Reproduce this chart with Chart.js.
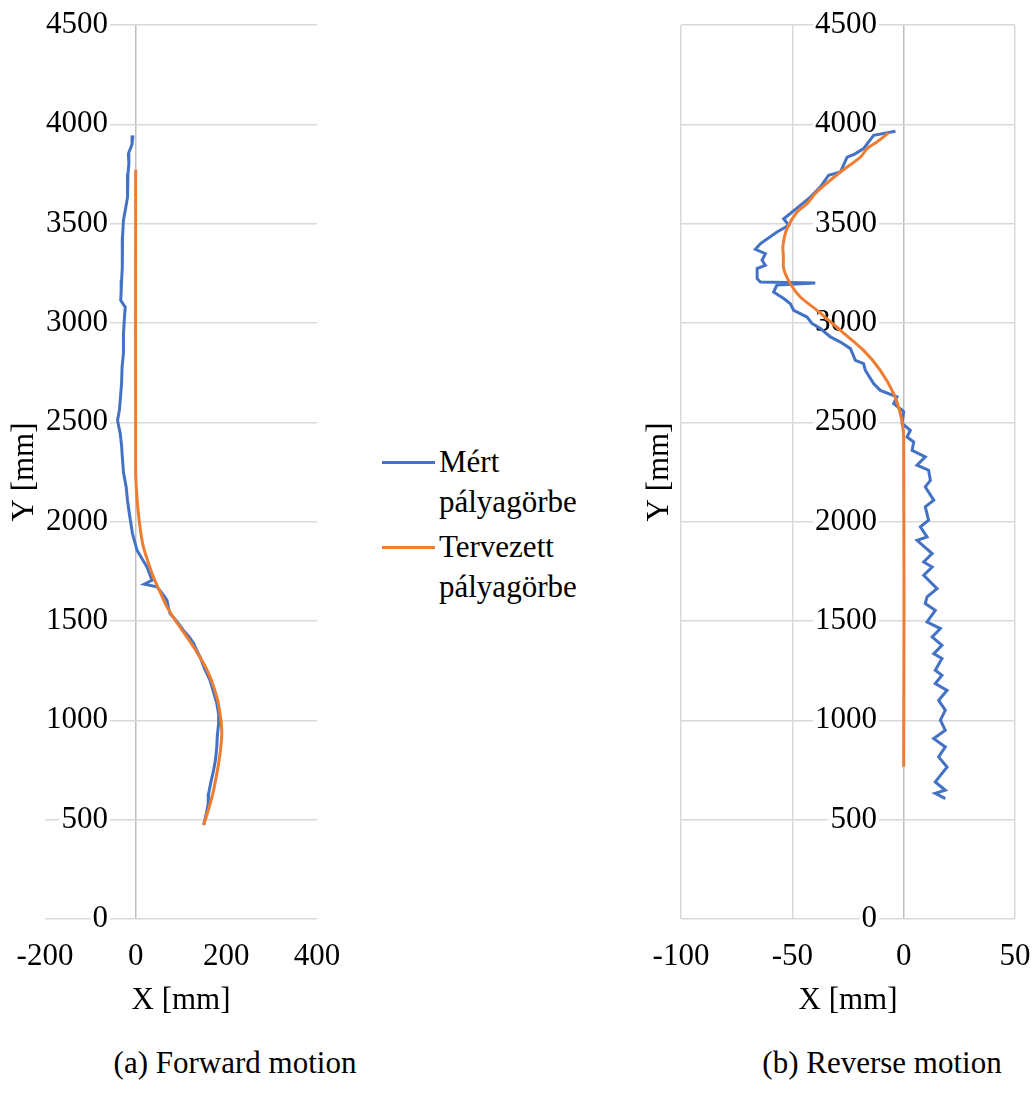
<!DOCTYPE html>
<html>
<head>
<meta charset="utf-8">
<script src="https://cdn.jsdelivr.net/npm/chart.js@4.4.1/dist/chart.umd.min.js"></script>
<style>
    body { margin: 0; background: #ffffff; width: 1033px; height: 1106px; position: relative; overflow: hidden; font-family: 'Liberation Serif', 'Times New Roman', Times, 'DejaVu Serif', serif; color: #000000; }
    #forwardChart { position: absolute; left: 0; top: 0; }
    #reverseChart { position: absolute; left: 620px; top: 0; }
    #legend { position: absolute; left: 382px; top: 442px; font-size: 31px; }
    .legendItem { display: flex; align-items: flex-start; margin-bottom: 5px; }
    .legendLine { width: 53px; height: 3px; margin-top: 19px; margin-right: 4px; }
    .legendText { width: 150px; line-height: 40px; }
    .caption { position: absolute; top: 1044px; width: 400px; font-size: 31px; line-height: 38px; text-align: center; }
</style>
</head>
<body>
<canvas id="forwardChart" width="345" height="1030"></canvas>
<canvas id="reverseChart" width="413" height="1030"></canvas>
<div id="legend"></div>
<div class="caption" id="captionA" style="left: 35px;"></div>
<div class="caption" id="captionB" style="left: 682px;"></div>
<script>
// series names and captions
const seriesNames = ['Mért pályagörbe', 'Tervezett pályagörbe'];
const captions = ['(a) Forward motion', '(b) Reverse motion'];
const xTitle = 'X [mm]';
const yTitle = 'Y [mm]';

// tick labels
const yTicks = [0, 500, 1000, 1500, 2000, 2500, 3000, 3500, 4000, 4500];
const fwdXTicks = [-200, 0, 200, 400];
const revXTicks = [-100, -50, 0, 50];

// (a) forward motion, measured path
const fwdMeasX = [-6, -8, -16, -15, -17, -17, -19, -22, -27, -29, -30, -29, -31, -32, -33, -23, -25, -27, -27, -30,
    -31, -34, -36, -40, -34, -31, -30, -27, -21, -18, -14, -7, 3, 15, 25, 36, 19, 47, 58, 69,
    72, 76, 90, 105, 118, 128, 135, 142, 152, 164, 172, 179, 183, 183, 180, 179, 176, 172, 166, 161,
    160, 156, 150];
const fwdMeasY = [3944, 3900, 3852, 3800, 3751, 3700, 3633, 3580, 3516, 3430, 3348, 3280, 3214, 3160, 3114, 3080, 3020, 2940, 2846, 2778,
    2700, 2611, 2560, 2510, 2443, 2380, 2343, 2250, 2175, 2108, 2041, 1940, 1856, 1810, 1772, 1705, 1685, 1672, 1640, 1605,
    1570, 1538, 1500, 1454, 1420, 1387, 1350, 1319, 1260, 1202, 1140, 1085, 1030, 984, 920, 867, 800, 750, 690, 632,
    580, 532, 473];

// (a) forward motion, planned path
const fwdPlanX = [0, 0, 2, 6, 11, 17, 27, 39, 53, 69, 90, 113, 133, 150, 163, 172, 181, 186, 189, 190, 188, 183, 178, 172, 163, 150];
const fwdPlanY = [3771, 2250, 2150, 2041, 1950, 1873, 1800, 1722, 1650, 1571, 1495, 1420, 1350, 1286, 1225, 1168, 1100, 1035, 980, 934, 870, 783, 720, 649, 570, 473];

// (b) reverse motion, measured path
const revMeasX = [-3.7, -13.5, -18, -22, -25.4, -28.4, -33.7, -37.4, -41.9, -46.4, -50.9, -53.9, -51.6, -56.9, -64.3, -66.6, -62.1, -63.6, -62.1, -65.8,
    -65.8, -64.3, -39.7, -56.9, -58.4, -53.9, -50.9, -49.4, -43.4, -41.1, -37.4, -32.9, -28.4, -23.9, -21.7, -18, -17.2, -13.5, -10.5, -3,
    -4.5, -0.7, 0, -0.7, 3, 1.5, 4.5, 3.8, 9.7, 6, 11.2, 12, 9.7, 13.5, 9.7, 11.2, 7.5, 10.5, 6, 12.8,
    9, 12.8, 9, 15, 10.5, 9.7, 14.2, 10.5, 16.5, 12.8, 17.2, 13.5, 17.2, 14.2, 17.2, 14.2, 19.5, 15.7, 18.7, 16.5,
    18.7, 13.5, 18.7, 15.7, 19.5, 14.2, 18.7, 14.2, 18.7];
const revMeasY = [3965, 3945, 3878, 3850, 3835, 3760, 3744, 3685, 3634, 3592, 3551, 3525, 3492, 3458, 3400, 3371, 3349, 3316, 3291, 3274,
    3223, 3206, 3201, 3191, 3156, 3123, 3097, 3064, 3030, 2997, 2972, 2930, 2904, 2871, 2812, 2796, 2762, 2695, 2661, 2628,
    2594, 2561, 2552, 2494, 2460, 2426, 2401, 2359, 2326, 2284, 2259, 2208, 2175, 2108, 2075, 2007, 1974, 1923, 1906, 1839,
    1797, 1772, 1730, 1663, 1621, 1588, 1554, 1495, 1462, 1420, 1378, 1336, 1311, 1252, 1227, 1185, 1151, 1101, 1051, 1001,
    950, 908, 866, 816, 765, 690, 648, 632, 606];

// (b) reverse motion, planned path
const revPlanX = [-6.7, -12, -16.4, -19.4, -28.4, -38.9, -43.4, -47.9, -52.4, -54.2, -54, -53.9, -50.9, -46.4, -38.9, -28.4, -18, -10.5, -4.5, -1.5, 0, 0];
const revPlanY = [3958, 3911, 3878, 3835, 3760, 3661, 3601, 3559, 3475, 3391, 3330, 3274, 3198, 3131, 3064, 2963, 2862, 2762, 2645, 2544, 2426, 766];

const BLUE = '#4472c4';
const ORANGE = '#ed7d31';
const GRID = '#d9d9d9';
const AXIS = '#bfbfbf';
const FONT = { family: "'Liberation Serif', 'Times New Roman', Times, 'DejaVu Serif', serif", size: 31, lineHeight: 1.2 };

function toPoints(xs, ys)
{
    return xs.map((x, i) => ({ x: x, y: ys[i] }));
}

function fixedTicks(values)
{
    return (scale) => { scale.ticks = values.map(v => ({ value: v })); };
}

function buildChart(canvasId, setup)
{
    return new Chart(
        document.getElementById(canvasId),
        {
            type: 'scatter',
            data:
            {
                datasets:
                [
                    {
                        label: seriesNames[0],
                        data: toPoints(setup.measX, setup.measY),
                        showLine: true,
                        borderColor: BLUE,
                        borderWidth: 3,
                        pointRadius: 0,
                        tension: 0,
                        order: 1
                    },
                    {
                        label: seriesNames[1],
                        data: toPoints(setup.planX, setup.planY),
                        showLine: true,
                        borderColor: ORANGE,
                        borderWidth: 3,
                        pointRadius: 0,
                        tension: 0.3,
                        order: 0
                    }
                ]
            },
            options:
            {
                responsive: false,
                animation: false,
                devicePixelRatio: 1,
                layout: { padding: { top: 25, right: setup.rightPad, bottom: 0, left: 0 } },
                plugins: { legend: { display: false }, tooltip: { enabled: false } },
                scales:
                {
                    x:
                    {
                        type: 'linear',
                        position: 'bottom',
                        min: setup.xTicks[0],
                        max: setup.xTicks[setup.xTicks.length - 1],
                        afterBuildTicks: fixedTicks(setup.xTicks),
                        afterFit: (s) => { s.height = 111; s.paddingLeft = 0; s.paddingRight = 0; },
                        border: { display: false },
                        grid:
                        {
                            drawTicks: false,
                            lineWidth: 1.5,
                            color: (ctx) => ctx.tick && ctx.tick.value === 0 ? AXIS : setup.xGrid
                        },
                        ticks: { font: FONT, color: '#000000', padding: 19, maxRotation: 0, autoSkip: false, callback: (v) => String(v) },
                        title: { display: true, text: xTitle, font: FONT, color: '#000000', padding: { top: 0, bottom: 11 } }
                    },
                    y:
                    {
                        type: 'linear',
                        position: 'left',
                        min: 0,
                        max: 4500,
                        afterBuildTicks: fixedTicks(yTicks),
                        afterFit: (s) => { s.width = setup.yWidth; s.paddingTop = 0; s.paddingBottom = 0; },
                        border: { display: false },
                        grid: { drawTicks: false, lineWidth: 1.5, color: GRID },
                        ticks: { display: false },
                        title: { display: true, text: yTitle, font: FONT, color: '#000000', padding: { top: setup.yTitlePad, bottom: 0 } }
                    },
                    yLabels:
                    {
                        type: 'linear',
                        axis: 'y',
                        position: { x: setup.labelAt },
                        min: 0,
                        max: 4500,
                        afterBuildTicks: fixedTicks(yTicks),
                        afterFit: (s) => { s.paddingTop = 0; s.paddingBottom = 0; s.paddingLeft = 0; s.paddingRight = 0; },
                        border: { display: false },
                        grid: { display: false, drawTicks: false },
                        ticks:
                        {
                            font: FONT,
                            color: '#000000',
                            padding: 0,
                            showLabelBackdrop: true,
                            backdropColor: '#ffffff',
                            backdropPadding: 2,
                            callback: (v) => String(v)
                        }
                    }
                }
            }
        }
    );
}

buildChart('forwardChart',
{
    measX: fwdMeasX, measY: fwdMeasY, planX: fwdPlanX, planY: fwdPlanY,
    xTicks: fwdXTicks, xGrid: 'rgba(0,0,0,0)', labelAt: -61,
    rightPad: 28, yWidth: 45, yTitlePad: 6
});

buildChart('reverseChart',
{
    measX: revMeasX, measY: revMeasY, planX: revPlanX, planY: revPlanY,
    xTicks: revXTicks, xGrid: GRID, labelAt: -12,
    rightPad: 18, yWidth: 61, yTitlePad: 21
});

// legend in the gap between the two plots
const legend = document.getElementById('legend');
[BLUE, ORANGE].forEach((color, i) =>
{
    const item = document.createElement('div');
    item.className = 'legendItem';
    item.innerHTML = '<div class="legendLine" style="background:' + color + '"></div><div class="legendText">' + seriesNames[i] + '</div>';
    legend.appendChild(item);
});

document.getElementById('captionA').textContent = captions[0];
document.getElementById('captionB').textContent = captions[1];
</script>
</body>
</html>
